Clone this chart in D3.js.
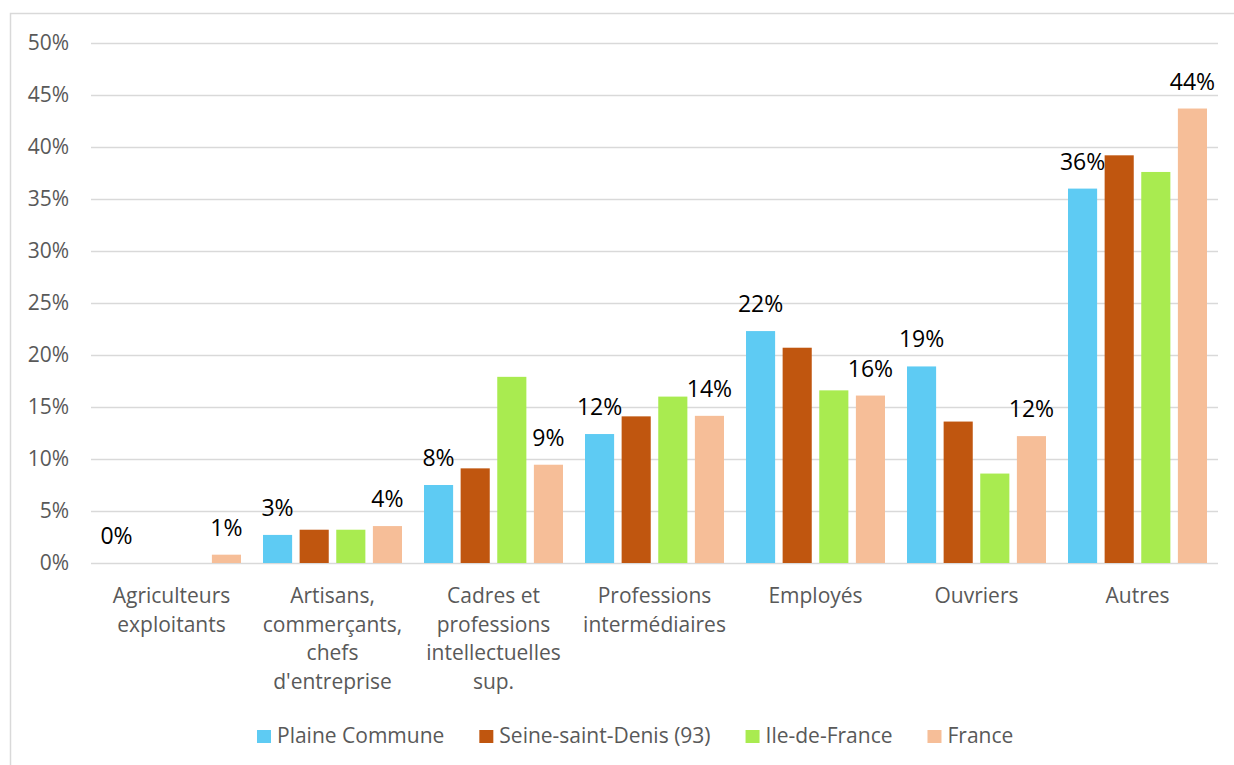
<!DOCTYPE html>
<html>
<head>
<meta charset="utf-8">
<script src="https://cdn.jsdelivr.net/npm/d3@7"></script>
<style>
  body { margin: 0; background: #fff; }
  svg text { font-family: "Open Sans", sans-serif; }
</style>
</head>
<body>
<div id="chart"></div>
<script>
// Data
var categories = [
  ["Agriculteurs", "exploitants"],
  ["Artisans,", "commerçants,", "chefs", "d'entreprise"],
  ["Cadres et", "professions", "intellectuelles", "sup."],
  ["Professions", "intermédiaires"],
  ["Employés"],
  ["Ouvriers"],
  ["Autres"]
];
var seriesNames = ["Plaine Commune", "Seine-saint-Denis (93)", "Ile-de-France", "France"];
var seriesColors = ["#5ecbf3", "#c0560f", "#a9eb50", "#f6be98"];
var plaineCommune = [0.0, 2.7, 7.5, 12.4, 22.3, 18.9, 36.0];
var seineSaintDenis = [0.0, 3.2, 9.1, 14.1, 20.7, 13.6, 39.2];
var ileDeFrance = [0.0, 3.2, 17.9, 16.0, 16.6, 8.6, 37.6];
var france = [0.8, 3.55, 9.45, 14.15, 16.1, 12.2, 43.7];
var yTicks = [0, 5, 10, 15, 20, 25, 30, 35, 40, 45, 50];
var labelledSeries = [0, 3]; // only first and last series carry data labels

var allSeries = [plaineCommune, seineSaintDenis, ileDeFrance, france];

// Plot area
var svgWidth = 1234, svgHeight = 765;
var margin = { top: 43, left: 91, right: 16, bottom: 202 };
var chartWidth = svgWidth - margin.left - margin.right;
var chartHeight = svgHeight - margin.top - margin.bottom;

var svg = d3.select("#chart").append("svg")
  .attr("width", svgWidth)
  .attr("height", svgHeight);

// chart frame (only top and left edges are visible)
svg.append("rect")
  .attr("x", 10.5).attr("y", 13.5)
  .attr("width", 1300).attr("height", 900)
  .attr("fill", "none")
  .attr("stroke", "#d9d9d9")
  .attr("stroke-width", 1.5);

var chartGroup = svg.append("g")
  .attr("transform", `translate(${margin.left}, ${margin.top})`);

var x0 = d3.scaleBand()
  .domain(d3.range(categories.length))
  .range([0, chartWidth]);

var x1 = d3.scaleBand()
  .domain(d3.range(seriesNames.length))
  .range([11, x0.bandwidth() - 11])
  .paddingInner(0.205);

var yLinearScale = d3.scaleLinear()
  .domain([0, 50])
  .range([chartHeight, 0]);

// gridlines + y labels
var leftAxis = d3.axisLeft(yLinearScale)
  .tickValues(yTicks)
  .tickSize(-chartWidth)
  .tickPadding(22)
  .tickFormat(d => d + "%");

var yAxis = chartGroup.append("g").call(leftAxis);
yAxis.select(".domain").remove();
yAxis.selectAll("line").attr("stroke", "#d9d9d9").attr("stroke-width", 1.5);
yAxis.selectAll("text")
  .attr("fill", "#595959")
  .style("font-size", "21px");

// bars
var groups = chartGroup.selectAll(".cat")
  .data(categories)
  .enter()
  .append("g")
  .attr("transform", (d, i) => `translate(${x0(i)}, 0)`);

groups.selectAll("rect")
  .data((d, i) => allSeries.map((s, j) => ({ s: j, v: s[i] })))
  .enter()
  .append("rect")
  .attr("x", d => x1(d.s))
  .attr("width", x1.bandwidth())
  .attr("y", d => yLinearScale(d.v))
  .attr("height", d => chartHeight - yLinearScale(d.v))
  .attr("fill", d => seriesColors[d.s]);

// data labels
groups.selectAll(".lbl")
  .data((d, i) => labelledSeries.map(j => ({ s: j, v: allSeries[j][i] })))
  .enter()
  .append("text")
  .attr("x", d => x1(d.s) + x1.bandwidth() / 2)
  .attr("y", d => yLinearScale(d.v) - 19)
  .attr("text-anchor", "middle")
  .attr("fill", "#000")
  .style("font-size", "23px")
  .text(d => Math.round(d.v) + "%");

// category labels
var catLabels = chartGroup.selectAll(".catlbl")
  .data(categories)
  .enter()
  .append("text")
  .attr("text-anchor", "middle")
  .attr("fill", "#595959")
  .style("font-size", "21px")
  .attr("transform", (d, i) => `translate(${x0(i) + x0.bandwidth() / 2}, ${chartHeight + 40})`);

catLabels.selectAll("tspan")
  .data(d => d)
  .enter()
  .append("tspan")
  .attr("x", 0)
  .attr("dy", (d, i) => i === 0 ? 0 : 28.5)
  .text(d => d);

// legend
var legend = svg.append("g").attr("transform", "translate(257, 730)");
var cursor = 0;
seriesNames.forEach(function(name, i) {
  var item = legend.append("g").attr("transform", `translate(${cursor}, 0)`);
  item.append("rect")
    .attr("x", 0).attr("y", 0)
    .attr("width", 14).attr("height", 13)
    .attr("fill", seriesColors[i]);
  var t = item.append("text")
    .attr("x", 20).attr("y", 13)
    .attr("fill", "#595959")
    .style("font-size", "21px")
    .text(name);
  cursor += 20 + t.node().getComputedTextLength() + 35;
});
</script>
</body>
</html>
